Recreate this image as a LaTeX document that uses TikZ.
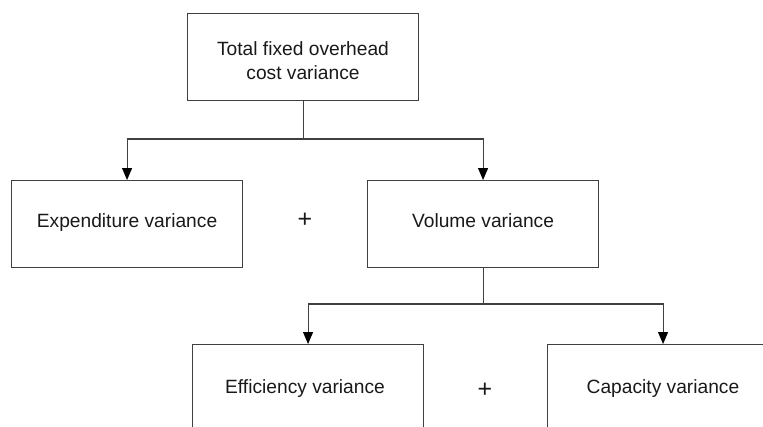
\documentclass[tikz,border=0pt]{standalone}
\usepackage{fontspec}
\setmainfont{Liberation Sans}
\usetikzlibrary{arrows.meta}
\begin{document}
\begin{tikzpicture}[x=1pt,y=-1pt,
  txt/.style={font=\fontsize{19.2}{24}\selectfont,text=black!90},
  vbox/.style={txt,draw=black!75,line width=1.1pt,minimum width=231pt,minimum height=87pt,inner sep=0pt,anchor=north west,align=center,text height=14pt,text depth=7pt},
  conn/.style={draw=black!75,line width=1.1pt},
  arr/.style={conn,-{Triangle[length=12pt,width=10pt,color=black]}},
  plus/.style={font=\fontsize{25}{25}\selectfont,text=black!90}]
\useasboundingbox (0,0) rectangle (763,426);
\begin{scope}
\clip (0,0) rectangle (763,426);
\node[vbox] (top) at (187,13) {};
\node[txt,anchor=base,align=center] (topt) at (303,79) {Total fixed overhead\\cost variance};
\node[vbox] (exp) at (11,180) {Expenditure variance};
\node[vbox] (vol) at (367,180) {Volume variance};
\node[vbox] (eff) at (192,344) {};
\node[vbox] (cap) at (547,344) {};
\node[txt,anchor=base] (efft) at (305,393) {Efficiency variance};
\node[txt,anchor=base] (capt) at (663,393) {Capacity variance};
\node[plus] (p1) at (305,220) {+};
\node[plus] (p2) at (485,390) {+};
\coordinate (j1) at (top.south |- 0,139);
\coordinate (j2) at (vol.south |- 0,304);
\draw[conn] (top.south) -- (j1);
\draw[arr] (j1) -| (exp.north);
\draw[arr] (j1) -| (vol.north);
\draw[conn] (vol.south) -- (j2);
\draw[arr] (j2) -| (eff.north);
\draw[arr] (j2) -| (cap.north);
\end{scope}
\end{tikzpicture}
\end{document}
